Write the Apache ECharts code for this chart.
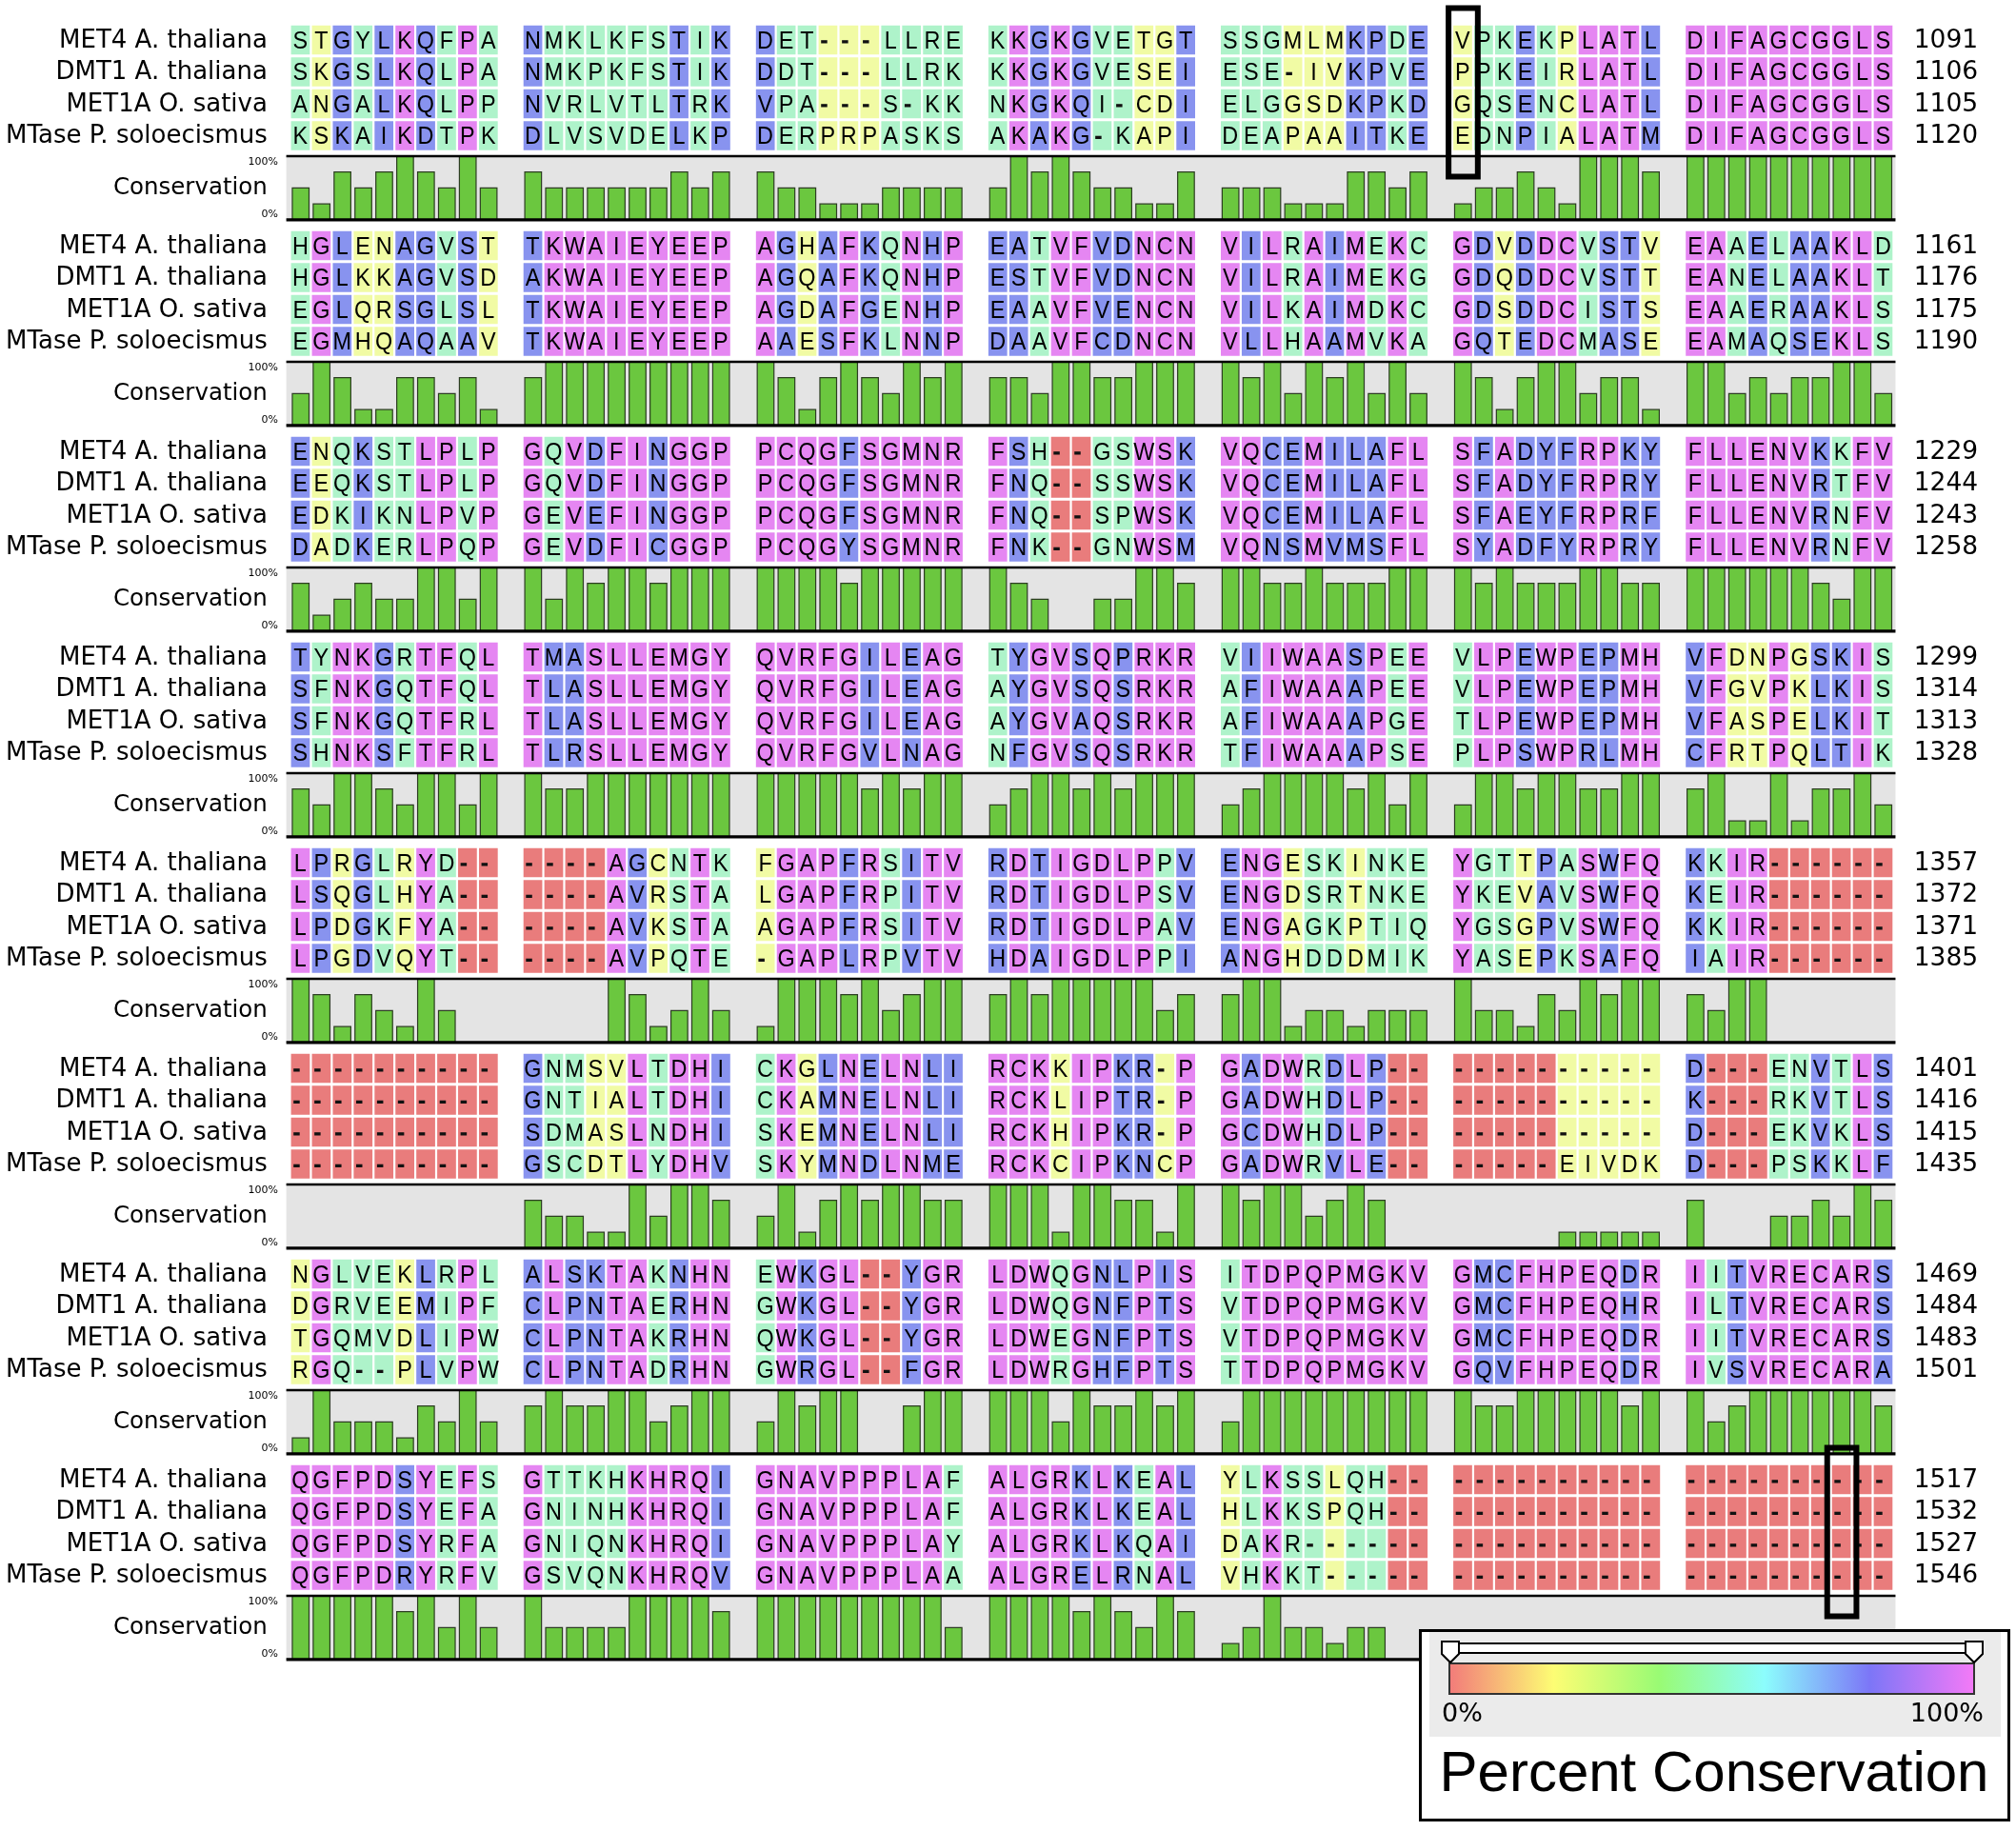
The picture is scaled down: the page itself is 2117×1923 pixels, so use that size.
<!DOCTYPE html>
<html><head><meta charset="utf-8">
<script src="https://cdn.jsdelivr.net/npm/echarts@6/dist/echarts.min.js"></script>
<style>html,body{margin:0;padding:0;background:#fff}#chart{width:2117px;height:1923px}</style>
</head><body><div id="chart"></div>
<script>
// ---------- data ----------
const seqNames = ["MET4 A. thaliana", "DMT1 A. thaliana", "MET1A O. sativa", "MTase P. soloecismus"];

const seqMET4 = [
  "STGYLKQFPA NMKLKFSTIK DET---LLRE KKGKGVETGT SSGMLMKPDE VPKEKPLATL DIFAGCGGLS",
  "HGLENAGVST TKWAIEYEEP AGHAFKQNHP EATVFVDNCN VILRAIMEKC GDVDDCVSTV EAAELAAKLD",
  "ENQKSTLPLP GQVDFINGGP PCQGFSGMNR FSH--GSWSK VQCEMILAFL SFADYFRPKY FLLENVKKFV",
  "TYNKGRTFQL TMASLLEMGY QVRFGILEAG TYGVSQPRKR VIIWAASPEE VLPEWPEPMH VFDNPGSKIS",
  "LPRGLRYD-- ----AGCNTK FGAPFRSITV RDTIGDLPPV ENGESKINKE YGTTPASWFQ KKIR------",
  "---------- GNMSVLTDHI CKGLNELNLI RCKKIPKR-P GADWRDLP-- ---------- D---ENVTLS",
  "NGLVEKLRPL ALSKTAKNHN EWKGL--YGR LDWQGNLPIS ITDPQPMGKV GMCFHPEQDR IITVRECARS",
  "QGFPDSYEFS GTTKHKHRQI GNAVPPPLAF ALGRKLKEAL YLKSSLQH-- ---------- ----------"
];
const seqDMT1 = [
  "SKGSLKQLPA NMKPKFSTIK DDT---LLRK KKGKGVESEI ESE-IVKPVE PPKEIRLATL DIFAGCGGLS",
  "HGLKKAGVSD AKWAIEYEEP AGQAFKQNHP ESTVFVDNCN VILRAIMEKG GDQDDCVSTT EANELAAKLT",
  "EEQKSTLPLP GQVDFINGGP PCQGFSGMNR FNQ--SSWSK VQCEMILAFL SFADYFRPRY FLLENVRTFV",
  "SFNKGQTFQL TLASLLEMGY QVRFGILEAG AYGVSQSRKR AFIWAAAPEE VLPEWPEPMH VFGVPKLKIS",
  "LSQGLHYA-- ----AVRSTA LGAPFRPITV RDTIGDLPSV ENGDSRTNKE YKEVAVSWFQ KEIR------",
  "---------- GNTIALTDHI CKAMNELNLI RCKLIPTR-P GADWHDLP-- ---------- K---RKVTLS",
  "DGRVEEMIPF CLPNTAERHN GWKGL--YGR LDWQGNFPTS VTDPQPMGKV GMCFHPEQHR ILTVRECARS",
  "QGFPDSYEFA GNINHKHRQI GNAVPPPLAF ALGRKLKEAL HLKKSPQH-- ---------- ----------"
];
const seqMET1A = [
  "ANGALKQLPP NVRLVTLTRK VPA---S-KK NKGKQI-CDI ELGGSDKPKD GQSENCLATL DIFAGCGGLS",
  "EGLQRSGLSL TKWAIEYEEP AGDAFGENHP EAAVFVENCN VILKAIMDKC GDSDDCISTS EAAERAAKLS",
  "EDKIKNLPVP GEVEFINGGP PCQGFSGMNR FNQ--SPWSK VQCEMILAFL SFAEYFRPRF FLLENVRNFV",
  "SFNKGQTFRL TLASLLEMGY QVRFGILEAG AYGVAQSRKR AFIWAAAPGE TLPEWPEPMH VFASPELKIT",
  "LPDGKFYA-- ----AVKSTA AGAPFRSITV RDTIGDLPAV ENGAGKPTIQ YGSGPVSWFQ KKIR------",
  "---------- SDMASLNDHI SKEMNELNLI RCKHIPKR-P GCDWHDLP-- ---------- D---EKVKLS",
  "TGQMVDLIPW CLPNTAKRHN QWKGL--YGR LDWEGNFPTS VTDPQPMGKV GMCFHPEQDR IITVRECARS",
  "QGFPDSYRFA GNIQNKHRQI GNAVPPPLAY ALGRKLKQAI DAKR------ ---------- ----------"
];
const seqMTase = [
  "KSKAIKDTPK DLVSVDELKP DERPRPASKS AKAKG-KAPI DEAPAAITKE EDNPIALATM DIFAGCGGLS",
  "EGMHQAQAAV TKWAIEYEEP AAESFKLNNP DAAVFCDNCN VLLHAAMVKA GQTEDCMASE EAMAQSEKLS",
  "DADKERLPQP GEVDFICGGP PCQGYSGMNR FNK--GNWSM VQNSMVMSFL SYADFYRPRY FLLENVRNFV",
  "SHNKSFTFRL TLRSLLEMGY QVRFGVLNAG NFGVSQSRKR TFIWAAAPSE PLPSWPRLMH CFRTPQLTIK",
  "LPGDVQYT-- ----AVPQTE -GAPLRPVTV HDAIGDLPPI ANGHDDDMIK YASEPKSAFQ IAIR------",
  "---------- GSCDTLYDHV SKYMNDLNME RCKCIPKNCP GADWRVLE-- -----EIVDK D---PSKKLF",
  "RGQ--PLVPW CLPNTADRHN GWRGL--FGR LDWRGHFPTS TTDPQPMGKV GQVFHPEQDR IVSVRECARA",
  "QGFPDRYRFV GSVQNKHRQV GNAVPPPLAA ALGRELRNAL VHKKT----- ---------- ----------"
];

const endPositions = [
  [1091, 1106, 1105, 1120], [1161, 1176, 1175, 1190], [1229, 1244, 1243, 1258], [1299, 1314, 1313, 1328],
  [1357, 1372, 1371, 1385], [1401, 1416, 1415, 1435], [1469, 1484, 1483, 1501], [1517, 1532, 1527, 1546]
];

// percent conservation per column (70 columns per block)
const conservationBlock1 = [50,25,75,50,75,100,75,50,100,50, 75,50,50,50,50,50,50,75,50,75, 75,50,50,25,25,25,50,50,50,50, 50,100,75,100,75,50,50,25,25,75, 50,50,50,25,25,25,75,75,50,75, 25,50,50,75,50,25,100,100,100,75, 100,100,100,100,100,100,100,100,100,100];
const conservationBlock2 = [50,100,75,25,25,75,75,50,75,25, 75,100,100,100,100,100,100,100,100,100, 100,75,25,75,100,75,50,100,75,100, 75,75,50,100,100,75,75,100,100,100, 100,75,100,50,100,75,100,50,100,50, 100,75,25,75,100,100,50,75,75,25, 100,100,50,75,50,75,75,100,100,50];
const conservationBlock3 = [75,25,50,75,50,50,100,100,50,100, 100,50,100,75,100,100,75,100,100,100, 100,100,100,100,75,100,100,100,100,100, 100,75,50,0,0,50,50,100,100,75, 100,100,75,75,100,75,75,75,100,100, 100,75,100,75,75,75,100,100,75,75, 100,100,100,100,100,100,75,50,100,100];
const conservationBlock4 = [75,50,100,100,75,50,100,100,50,100, 100,75,75,100,100,100,100,100,100,100, 100,100,100,100,100,75,100,75,100,100, 50,75,100,100,75,100,75,100,100,100, 50,75,100,100,100,100,75,100,50,100, 50,100,100,75,100,100,75,75,100,100, 75,100,25,25,100,25,75,75,100,50];
const conservationBlock5 = [100,75,25,75,50,25,100,50,0,0, 0,0,0,0,100,75,25,50,100,50, 25,100,100,100,75,100,50,75,100,100, 75,100,75,100,100,100,100,100,50,75, 75,100,100,25,50,50,25,50,50,50, 100,50,50,25,75,50,100,75,100,100, 75,50,100,100,0,0,0,0,0,0];
const conservationBlock6 = [0,0,0,0,0,0,0,0,0,0, 75,50,50,25,25,100,50,100,100,75, 50,100,25,75,100,75,100,100,75,75, 100,100,100,25,100,100,75,75,25,100, 100,75,100,100,50,75,100,75,0,0, 0,0,0,0,0,25,25,25,25,25, 75,0,0,0,50,50,75,50,100,75];
const conservationBlock7 = [25,100,50,50,50,25,75,50,100,50, 75,100,75,75,100,100,50,75,100,100, 50,100,75,100,100,0,0,75,100,100, 100,100,100,50,100,75,75,100,75,100, 50,100,100,100,100,100,100,100,100,100, 100,75,75,100,100,100,100,100,75,100, 100,50,75,100,100,100,100,100,100,75];
const conservationBlock8 = [100,100,100,100,100,75,100,50,100,50, 100,50,50,50,50,100,100,100,100,75, 100,100,100,100,100,100,100,100,100,50, 100,100,100,100,75,100,75,50,100,75, 25,50,100,50,50,25,50,50,0,0, 0,0,0,0,0,0,0,0,0,0, 0,0,0,0,0,0,0,0,0,0];

// highlighted columns: [block index, column index]
const highlightedColumns = [[0, 50], [7, 67]];

// colour of a cell for each conservation level
const levelColors = {0: '#e97c7c', 25: '#f1fba4', 50: '#aef3ca', 75: '#8893ef', 100: '#e586f2'};
const legendStops = ['#f27a7a', '#fdfd74', '#99fb74', '#8cfdfd', '#7c76f7', '#f57af7'];

// ---------- layout (in cell / row units) ----------
const GROUP_PITCH = 11.131;
const BLOCK_PITCH = 6.4478;
const CONS_TOP = 3.64, CONS_BOT = 5.64;
const NCOLS = 70;

const seqRows = [seqMET4, seqDMT1, seqMET1A, seqMTase];
const consBlocks = [conservationBlock1, conservationBlock2, conservationBlock3, conservationBlock4,
                    conservationBlock5, conservationBlock6, conservationBlock7, conservationBlock8];
const colX = i => Math.floor(i / 10) * GROUP_PITCH + (i % 10);

const cellData = [], cellLetters = [], barData = [], blockData = [], hlData = [];
consBlocks.forEach((cons, b) => {
  blockData.push([0, b * BLOCK_PITCH, b]);
  seqRows.forEach((rows, r) => {
    const s = rows[b].replace(/ /g, '');
    for (let i = 0; i < NCOLS; i++) {
      cellData.push([colX(i), b * BLOCK_PITCH + r, cons[i]]);
      cellLetters.push(s[i]);
    }
  });
  for (let i = 0; i < NCOLS; i++) barData.push([colX(i), b * BLOCK_PITCH, cons[i]]);
});
highlightedColumns.forEach(([b, i]) => hlData.push([colX(i), b * BLOCK_PITCH]));
const XMAX = colX(NCOLS - 1) + 1;
const CELL_PX = 21.93, ROW_PX = 33.5;

const LABEL_FONT = '"DejaVu Sans", sans-serif';
const RESIDUE_FONT = '26px "Liberation Sans", Arial, sans-serif';

function renderCell(params, api) {
  const x = api.value(0), y = api.value(1), v = api.value(2);
  const a = api.coord([x, y - 0.5]), c = api.coord([x + 1, y + 0.5]);
  const w = c[0] - a[0], h = c[1] - a[1];
  const ch = cellLetters[params.dataIndex];
  const cx = (a[0] + c[0]) / 2 - 0.6, cy = (a[1] + c[1]) / 2;
  const children = [{type: 'rect', shape: {x: a[0] + 0.6, y: a[1] + 1.5, width: w - 2.2, height: h - 3.0},
                     style: {fill: levelColors[v]}}];
  if (ch === '-') {
    children.push({type: 'rect', shape: {x: a[0] + 3.2, y: cy + 0.2, width: 6.5, height: 3.3}, style: {fill: '#111'}});
  } else {
    children.push({type: 'text', x: cx, y: cy + 1.5, scaleX: 0.9,
                   style: {text: ch, x: 0, y: 0, align: 'center', verticalAlign: 'middle',
                   font: RESIDUE_FONT, fill: '#000'}});
  }
  return {type: 'group', children};
}

function renderBar(params, api) {
  const x = api.value(0), y0 = api.value(1), v = api.value(2);
  if (!v) return {type: 'group', children: []};
  const bottom = y0 + CONS_BOT, top = bottom - v / 100 * (CONS_BOT - CONS_TOP);
  const a = api.coord([x + 0.09, top]), c = api.coord([x + 0.89, bottom]);
  return {type: 'rect', shape: {x: a[0], y: a[1], width: c[0] - a[0], height: c[1] - a[1]},
          style: {fill: '#6bc73f', stroke: '#2c3d22', lineWidth: 1.2}};
}

function renderPanel(params, api) {
  const y0 = api.value(1);
  const a = api.coord([-0.2, y0 + CONS_TOP]), c = api.coord([XMAX + 0.07, y0 + CONS_BOT]);
  return {type: 'rect', shape: {x: a[0], y: a[1], width: c[0] - a[0], height: c[1] - a[1]}, style: {fill: '#e4e4e4'}};
}

function renderFrame(params, api) {
  const y0 = api.value(1), b = api.value(2);
  const a = api.coord([-0.2, y0 + CONS_TOP]), c = api.coord([XMAX + 0.07, y0 + CONS_BOT]);
  const children = [
    {type: 'line', shape: {x1: a[0], y1: a[1], x2: c[0], y2: a[1]}, style: {stroke: '#000', lineWidth: 2.6}},
    {type: 'line', shape: {x1: a[0], y1: c[1], x2: c[0], y2: c[1]}, style: {stroke: '#000', lineWidth: 3.2}}
  ];
  const nameX = api.coord([-1.1, 0])[0];
  const numX = api.coord([XMAX + 0.95, 0])[0];
  seqNames.forEach((n, r) => {
    const yy = api.coord([0, y0 + r])[1];
    children.push({type: 'text', style: {text: n, x: nameX, y: yy + 1, align: 'right', verticalAlign: 'middle',
                   font: '26px ' + LABEL_FONT, fill: '#000'}});
    children.push({type: 'text', style: {text: String(endPositions[b][r]), x: numX, y: yy + 1, align: 'left',
                   verticalAlign: 'middle', font: '26.5px ' + LABEL_FONT, fill: '#000'}});
  });
  const pctX = api.coord([-0.6, 0])[0];
  children.push({type: 'text', style: {text: 'Conservation', x: nameX, y: api.coord([0, y0 + 4.66])[1],
                 align: 'right', verticalAlign: 'middle', font: '24.5px ' + LABEL_FONT, fill: '#000'}});
  children.push({type: 'text', style: {text: '100%', x: pctX, y: api.coord([0, y0 + 3.82])[1],
                 align: 'right', verticalAlign: 'middle', font: '11px ' + LABEL_FONT, fill: '#000'}});
  children.push({type: 'text', style: {text: '0%', x: pctX, y: api.coord([0, y0 + 5.47])[1],
                 align: 'right', verticalAlign: 'middle', font: '11px ' + LABEL_FONT, fill: '#000'}});
  return {type: 'group', children};
}

function renderHighlight(params, api) {
  const x = api.value(0), y0 = api.value(1);
  const a = api.coord([x - 0.2, y0 - 1.0]), c = api.coord([x + 1.2, y0 + 4.28]);
  return {type: 'rect', shape: {x: a[0], y: a[1], width: c[0] - a[0], height: c[1] - a[1]},
          style: {fill: null, stroke: '#000', lineWidth: 6}};
}

const chart = echarts.init(document.getElementById('chart'));
const legendZ = 100;
chart.setOption({
  animation: false,
  backgroundColor: '#fff',
  grid: {left: 305, top: 42 - ROW_PX / 2, width: XMAX * CELL_PX, height: 51.5 * ROW_PX},
  xAxis: {type: 'value', min: 0, max: XMAX, show: false},
  yAxis: {type: 'value', min: -0.5, max: 51, inverse: true, show: false},
  series: [
    {type: 'custom', name: 'panel', data: blockData, renderItem: renderPanel, clip: false, z: 1, silent: true},
    {type: 'custom', name: 'cells', data: cellData, renderItem: renderCell, clip: false, z: 2, silent: true},
    {type: 'custom', name: 'conservation', data: barData, renderItem: renderBar, clip: false, z: 3, silent: true},
    {type: 'custom', name: 'frame', data: blockData, renderItem: renderFrame, clip: false, z: 4, silent: true},
    {type: 'custom', name: 'highlight', data: hlData, renderItem: renderHighlight, clip: false, z: 5, silent: true}
  ],
  graphic: [
    {type: 'rect', z: legendZ, shape: {x: 1491.5, y: 1712.5, width: 618, height: 199},
     style: {fill: '#fff', stroke: '#000', lineWidth: 3}},
    {type: 'rect', z: legendZ + 1, shape: {x: 1501, y: 1714, width: 600, height: 110}, style: {fill: '#ebebeb'}},
    {type: 'rect', z: legendZ + 2, shape: {x: 1515, y: 1726, width: 567, height: 10},
     style: {fill: '#fff', stroke: '#000', lineWidth: 2}},
    {type: 'rect', z: legendZ + 2, shape: {x: 1522, y: 1747, width: 551, height: 32},
     style: {fill: {type: 'linear', x: 0, y: 0, x2: 1, y2: 0,
       colorStops: legendStops.map((c, i) => ({offset: i / (legendStops.length - 1), color: c}))},
       stroke: '#333', lineWidth: 2}},
    {type: 'polygon', z: legendZ + 3, shape: {points: [[1514, 1724], [1532, 1724], [1532, 1737], [1523, 1746], [1514, 1737]]},
     style: {fill: '#fff', stroke: '#000', lineWidth: 2}},
    {type: 'polygon', z: legendZ + 3, shape: {points: [[2064, 1724], [2082, 1724], [2082, 1737], [2073, 1746], [2064, 1737]]},
     style: {fill: '#fff', stroke: '#000', lineWidth: 2}},
    {type: 'text', z: legendZ + 3, style: {text: '0%', x: 1514, y: 1801, align: 'left', verticalAlign: 'middle',
     font: '27px ' + LABEL_FONT, fill: '#000'}},
    {type: 'text', z: legendZ + 3, style: {text: '100%', x: 2083, y: 1801, align: 'right', verticalAlign: 'middle',
     font: '27px ' + LABEL_FONT, fill: '#000'}},
    {type: 'text', z: legendZ + 3, style: {text: 'Percent Conservation', x: 1800, y: 1864, align: 'center',
     verticalAlign: 'middle', font: '60px "Liberation Sans", Arial, sans-serif', fill: '#000'}}
  ]
});
</script></body></html>
